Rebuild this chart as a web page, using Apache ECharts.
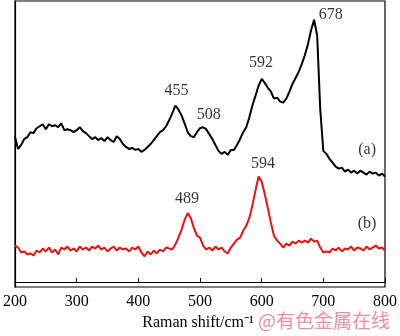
<!DOCTYPE html>
<html>
<head>
<meta charset="utf-8">
<script src="https://cdn.jsdelivr.net/npm/echarts@6/dist/echarts.min.js"></script>
<style>
  html, body { margin: 0; padding: 0; background: #ffffff; }
  #chart { width: 400px; height: 336px; }
</style>
</head>
<body>
<div id="chart"></div>
<script>
// Raman shift, cm-1 (step 5)
var shift = [];
for (var w = 200; w <= 800; w += 5) shift.push(w);

// spectrum (a), arbitrary intensity
var specA = [147,135,139,145,147,152,151,156,158,160,155,160,158,159,157,161,154,155,154,152,
  154,157,153,151,148,145,147,144,146,143,147,144,142,148,145,140,137,135,136,134,
  135,132,134,137,140,144,148,152,154,158,164,171,179,175,169,161,152,148,147,152,
  156,157,155,150,145,139,133,130,132,129,134,134,139,145,152,157,167,179,189,199,
  206,202,197,193,186,187,183,182,186,193,201,207,213,221,230,241,255,266,250,175,
  133,130,125,121,117,115,116,112,114,111,113,110,113,111,109,112,110,111,108,110,107];

// spectrum (b)
var specB = [37,35,30,31,28,29,27,32,30,34,31,35,30,33,28,35,33,36,32,34,
  31,36,33,35,32,36,34,37,33,35,31,34,36,32,35,33,34,31,35,33,
  36,30,26,31,28,32,29,33,31,35,34,33,38,45,53,63,70,65,55,47,
  45,37,33,35,32,36,33,35,31,29,35,39,43,45,52,57,65,78,93,107,
  102,89,75,60,47,42,39,35,39,37,41,39,42,40,42,40,44,41,42,35,
  30,31,30,34,32,35,31,34,33,36,32,35,34,32,36,33,35,37,34,35,32];

// peak labels: [x, y, text]
var notes = [
  [462, 194, '455'],
  [514, 170, '508'],
  [599, 222, '592'],
  [712, 271, '678'],
  [771, 134, '(a)'],
  [479, 84, '489'],
  [602, 120, '594'],
  [771, 59, '(b)']
];

var xTicks = [200, 300, 400, 500, 600, 700, 800];

function pairs(ys) {
  return ys.map(function (v, i) { return [shift[i], v]; });
}

var myChart = echarts.init(document.getElementById('chart'));
var serif = '"Liberation Serif", "Times New Roman", serif';

var option = {
  animation: false,
  grid: {
    left: 12, right: 12, top: 1, bottom: 45,
    show: true, borderColor: '#000', borderWidth: 1.2
  },
  xAxis: {
    type: 'value',
    min: 200, max: 800, interval: 100,
    name: 'Raman shift/cm\u207B\u00B9',
    nameLocation: 'middle',
    nameGap: 28,
    nameTextStyle: { fontFamily: serif, fontSize: 16, color: '#000', padding: [0, 0, 0, -4] },
    axisLine: { lineStyle: { color: '#000', width: 1.2 } },
    axisTick: { inside: true, length: 4, lineStyle: { color: '#000' } },
    axisLabel: {
      fontFamily: serif, fontSize: 16, color: '#000', margin: 7,
      formatter: function (v) { return xTicks.indexOf(v) >= 0 ? String(v) : ''; }
    },
    splitLine: { show: false }
  },
  yAxis: {
    type: 'value',
    min: -5, max: 285,
    axisLine: { show: true, lineStyle: { color: '#000', width: 1.2 } },
    axisTick: { show: false },
    axisLabel: { show: false },
    splitLine: { show: false }
  },
  series: [
    {
      name: '(a)', type: 'line', data: pairs(specA), showSymbol: false,
      lineStyle: { color: '#000', width: 2 }
    },
    {
      name: '(b)', type: 'line', data: pairs(specB), showSymbol: false,
      lineStyle: { color: '#ee1111', width: 2 }
    },
    {
      type: 'scatter', symbolSize: 0,
      data: notes.map(function (n) { return { value: [n[0], n[1]], name: n[2] }; }),
      label: {
        show: true, position: 'inside', formatter: '{b}',
        fontFamily: serif, fontSize: 16, color: '#000'
      }
    }
  ],
  graphic: [
    {
      type: 'text', right: 10, top: 311,
      style: {
        text: '@有色金属在线', fill: '#ef8f9c',
        font: '19px "Noto Sans CJK SC", sans-serif'
      }
    }
  ]
};

myChart.setOption(option);
</script>
</body>
</html>
